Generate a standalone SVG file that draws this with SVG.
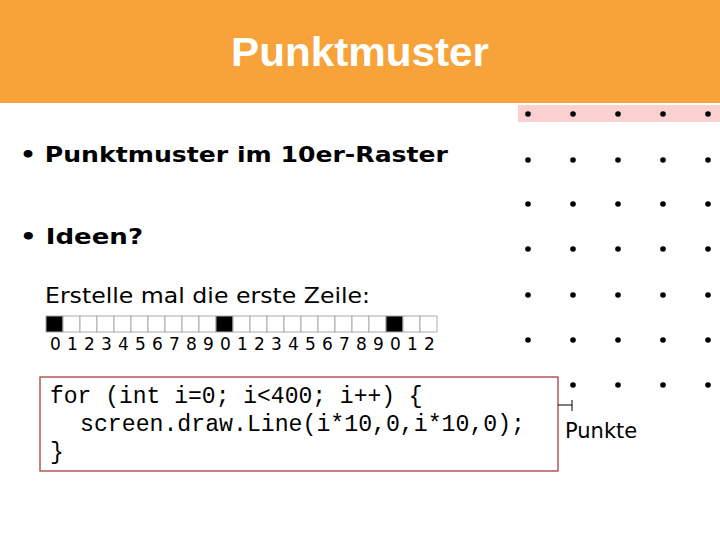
<svg xmlns="http://www.w3.org/2000/svg" width="720" height="540" viewBox="0 0 720 540">
<style>
.s{font-family:"DejaVu Sans",Verdana,sans-serif;font-weight:bold;fill:#000;font-size:22px}
.c{fill:#fff;stroke:#aaa;stroke-width:1}
.k{fill:#000;stroke:#aaa}
.n{font-family:"DejaVu Sans",Verdana,sans-serif;font-size:17px}
.m{font-family:"Liberation Mono","Courier New",monospace;font-size:23px}
</style>
<rect width="720" height="540" fill="#fff"/>
<g id="header"><rect width="720" height="103" fill="#f7a33a"/>
<text x="360" y="66" text-anchor="middle" font-size="40" fill="#fff" font-family="Liberation Sans,Arial,sans-serif" font-weight="bold" textLength="258" lengthAdjust="spacingAndGlyphs">Punktmuster</text></g>
<g id="bullets">
<text class="s" x="20" y="162" textLength="428" lengthAdjust="spacingAndGlyphs">• Punktmuster im 10er-Raster</text>
<text class="s" x="20" y="244" textLength="123" lengthAdjust="spacingAndGlyphs">• Ideen?</text>
<text x="45" y="303" font-size="21" font-family="'DejaVu Sans',Verdana,sans-serif" textLength="325" lengthAdjust="spacingAndGlyphs">Erstelle mal die erste Zeile:</text>
</g>
<g id="cells">
<rect class="k" x="46" y="316" width="17" height="16"/>
<rect class="c" x="63" y="316" width="17" height="16"/><rect class="c" x="80" y="316" width="17" height="16"/><rect class="c" x="97" y="316" width="17" height="16"/><rect class="c" x="114" y="316" width="17" height="16"/><rect class="c" x="131" y="316" width="17" height="16"/><rect class="c" x="148" y="316" width="17" height="16"/><rect class="c" x="165" y="316" width="17" height="16"/><rect class="c" x="182" y="316" width="17" height="16"/><rect class="c" x="199" y="316" width="17" height="16"/>
<rect class="k" x="216" y="316" width="17" height="16"/>
<rect class="c" x="233" y="316" width="17" height="16"/><rect class="c" x="250" y="316" width="17" height="16"/><rect class="c" x="267" y="316" width="17" height="16"/><rect class="c" x="284" y="316" width="17" height="16"/><rect class="c" x="301" y="316" width="17" height="16"/><rect class="c" x="318" y="316" width="17" height="16"/><rect class="c" x="335" y="316" width="17" height="16"/><rect class="c" x="352" y="316" width="17" height="16"/><rect class="c" x="369" y="316" width="17" height="16"/>
<rect class="k" x="386" y="316" width="17" height="16"/>
<rect class="c" x="403" y="316" width="17" height="16"/><rect class="c" x="420" y="316" width="17" height="16"/>
<text class="n" y="350"><tspan x="50">0</tspan><tspan x="67">1</tspan><tspan x="84">2</tspan><tspan x="101">3</tspan><tspan x="118">4</tspan><tspan x="135">5</tspan><tspan x="152">6</tspan><tspan x="169">7</tspan><tspan x="186">8</tspan><tspan x="203">9</tspan><tspan x="220">0</tspan><tspan x="237">1</tspan><tspan x="254">2</tspan><tspan x="271">3</tspan><tspan x="288">4</tspan><tspan x="305">5</tspan><tspan x="322">6</tspan><tspan x="339">7</tspan><tspan x="356">8</tspan><tspan x="373">9</tspan><tspan x="390">0</tspan><tspan x="407">1</tspan><tspan x="424">2</tspan></text>
</g>
<g id="code">
<rect x="40" y="377" width="518" height="94" fill="#fff" stroke="#a03030" stroke-width="1.2"/>
<text class="m" x="50" y="403">for (int i=0; i&lt;400; i++) {</text>
<text class="m" x="80" y="431" textLength="445" lengthAdjust="spacingAndGlyphs">screen.draw.Line(i*10,0,i*10,0);</text>
<text class="m" x="50" y="459">}</text>
</g>
<g id="grid">
<rect x="518" y="105" width="202" height="17" fill="#fad0d0"/>
<g fill="#000">
<circle cx="528" cy="114" r="2.8"/><circle cx="573" cy="114" r="2.8"/><circle cx="618" cy="114" r="2.8"/><circle cx="663" cy="114" r="2.8"/><circle cx="708" cy="114" r="2.8"/>
<circle cx="528" cy="160" r="2.8"/><circle cx="573" cy="160" r="2.8"/><circle cx="618" cy="160" r="2.8"/><circle cx="663" cy="160" r="2.8"/><circle cx="708" cy="160" r="2.8"/>
<circle cx="528" cy="204" r="2.8"/><circle cx="573" cy="204" r="2.8"/><circle cx="618" cy="204" r="2.8"/><circle cx="663" cy="204" r="2.8"/><circle cx="708" cy="204" r="2.8"/>
<circle cx="528" cy="249" r="2.8"/><circle cx="573" cy="249" r="2.8"/><circle cx="618" cy="249" r="2.8"/><circle cx="663" cy="249" r="2.8"/><circle cx="708" cy="249" r="2.8"/>
<circle cx="528" cy="295" r="2.8"/><circle cx="573" cy="295" r="2.8"/><circle cx="618" cy="295" r="2.8"/><circle cx="663" cy="295" r="2.8"/><circle cx="708" cy="295" r="2.8"/>
<circle cx="528" cy="340" r="2.8"/><circle cx="573" cy="340" r="2.8"/><circle cx="618" cy="340" r="2.8"/><circle cx="663" cy="340" r="2.8"/><circle cx="708" cy="340" r="2.8"/>
<circle cx="573" cy="385" r="2.8"/><circle cx="618" cy="385" r="2.8"/><circle cx="663" cy="385" r="2.8"/><circle cx="708" cy="385" r="2.8"/>
</g></g>
<g id="connectors" stroke="#000" stroke-width="1"><line x1="558" y1="405" x2="572" y2="405"/><line x1="572" y1="400" x2="572" y2="411"/></g>
<text x="565" y="438" font-size="21" font-family="'DejaVu Sans',Verdana,sans-serif">Punkte</text>
</svg>
